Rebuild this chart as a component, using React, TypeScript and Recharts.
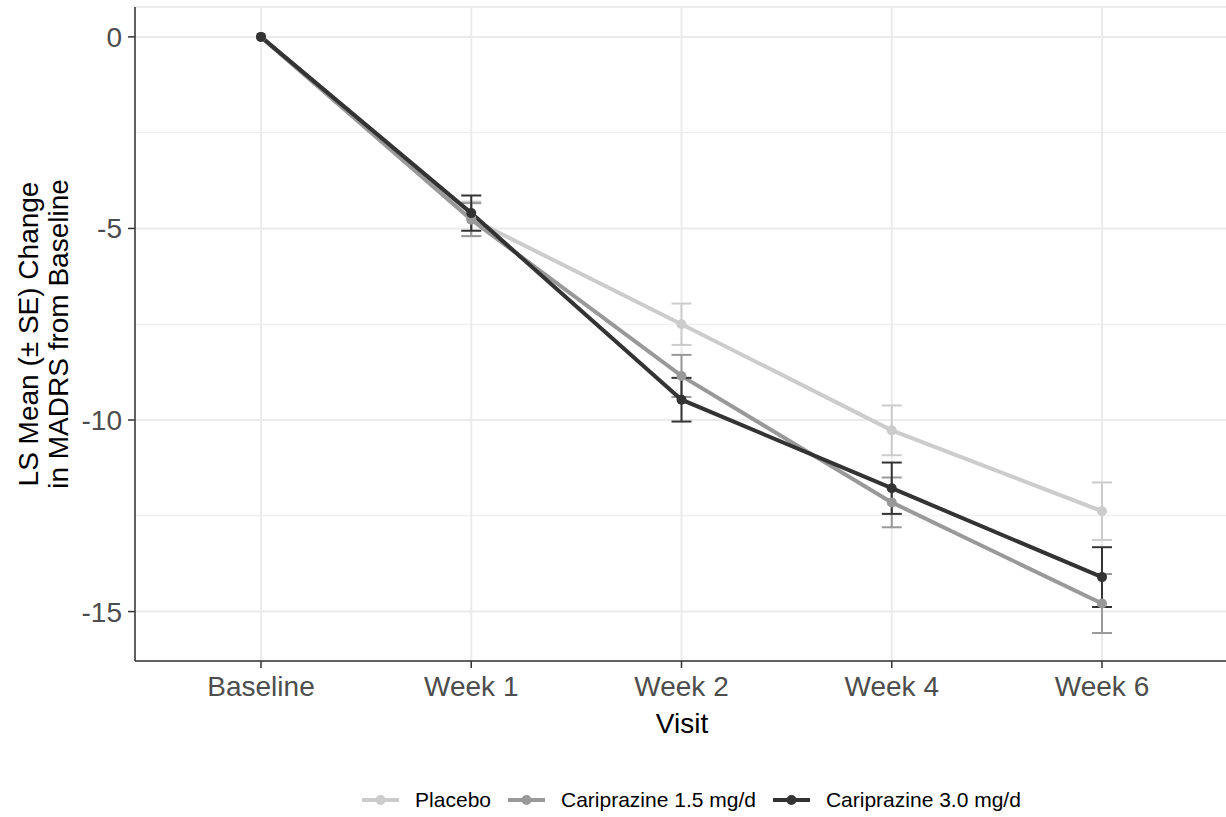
import React from "react";
import {
  LineChart,
  Line,
  XAxis,
  YAxis,
  CartesianGrid,
  ErrorBar,
  Legend,
  ReferenceLine,
  Label,
} from "recharts";

const visits = ["Baseline", "Week 1", "Week 2", "Week 4", "Week 6"];

const placeboMean = [0, -4.75, -7.5, -10.27, -12.38];
const placeboSE = [0, 0.45, 0.54, 0.65, 0.75];
const cari15Mean = [0, -4.77, -8.85, -12.15, -14.79];
const cari15SE = [0, 0.43, 0.55, 0.65, 0.77];
const cari30Mean = [0, -4.6, -9.47, -11.78, -14.1];
const cari30SE = [0, 0.46, 0.57, 0.67, 0.78];

const yTicks = [-15, -10, -5, 0];
const yMinor = [-12.5, -7.5, -2.5];

const series = [
  { key: "placebo", name: "Placebo", color: "#cccccc" },
  { key: "cari15", name: "Cariprazine 1.5 mg/d", color: "#999999" },
  { key: "cari30", name: "Cariprazine 3.0 mg/d", color: "#333333" },
];

const data = visits.map((visit, i) => ({
  visit,
  placebo: placeboMean[i],
  placeboSE: placeboSE[i],
  cari15: cari15Mean[i],
  cari15SE: cari15SE[i],
  cari30: cari30Mean[i],
  cari30SE: cari30SE[i],
}));

const FONT = '"Liberation Sans", Arial, sans-serif';

function YTitle() {
  return (
    <text
      transform="translate(38,334) rotate(-90)"
      textAnchor="middle"
      fontSize={28}
      fill="#000"
      fontFamily={FONT}
    >
      <tspan x={0} dy={0}>LS Mean (± SE) Change</tspan>
      <tspan x={0} dy={30}>in MADRS from Baseline</tspan>
    </text>
  );
}

function LegendContent({ payload }: any) {
  // keep the order of the series, not the alphabetical one
  const items = [...(payload || [])].sort(
    (a: any, b: any) =>
      series.findIndex((s) => s.name === a.value) -
      series.findIndex((s) => s.name === b.value)
  );
  return (
    <div style={{ height: 76, position: "relative" }}>
      <div
        style={{
          position: "absolute",
          top: 47,
          left: 0,
          width: 1226,
          height: 24,
          display: "flex",
          justifyContent: "center",
          alignItems: "center",
          paddingLeft: 174,
          boxSizing: "border-box",
          fontSize: 21,
          fontFamily: FONT,
          color: "#000",
        }}
      >
        {items.map((p: any) => (
          <div
            key={p.value}
            style={{ display: "flex", alignItems: "center", marginRight: 17 }}
          >
            <svg width={37} height={12} style={{ marginRight: 16 }}>
              <line x1={0} y1={6} x2={37} y2={6} stroke={p.color} strokeWidth={4} />
              <circle cx={18.5} cy={6} r={5} fill={p.color} />
            </svg>
            <span>{p.value}</span>
          </div>
        ))}
      </div>
    </div>
  );
}

export default function App() {
  return (
    <div
      style={{
        position: "absolute",
        left: 0,
        top: 0,
        width: 1226,
        height: 817,
        overflow: "hidden",
        fontFamily: FONT,
      }}
    >
      <LineChart
        width={1240}
        height={817}
        data={data}
        margin={{ top: 7, right: 0, bottom: 0, left: 0 }}
      >
        <CartesianGrid stroke="#ebebeb" strokeWidth={2} />
        {yMinor.map((v) => (
          <ReferenceLine key={v} y={v} stroke="#ebebeb" strokeWidth={1} />
        ))}
        <XAxis
          dataKey="visit"
          height={80}
          padding={{ left: 126, right: 138 }}
          tickSize={7}
          tickMargin={8}
          tick={{ fill: "#4d4d4d", fontSize: 28 }}
          axisLine={{ stroke: "#333333", strokeWidth: 1.5 }}
          tickLine={{ stroke: "#333333", strokeWidth: 1.5 }}
        >
          <Label
            value="Visit"
            content={(props: any) => (
              <text x={682} y={733} textAnchor="middle" fontSize={28} fill="#000">
                {props.value}
              </text>
            )}
          />
        </XAxis>
        <XAxis
          xAxisId="top"
          orientation="top"
          dataKey="visit"
          height={0}
          tick={false}
          tickLine={false}
          axisLine={{ stroke: "#333333", strokeWidth: 1.5 }}
        />
        <YAxis
          width={135}
          domain={[-16.29, 0.78]}
          allowDataOverflow
          ticks={yTicks}
          tickSize={7}
          tickMargin={6}
          tick={{ fill: "#4d4d4d", fontSize: 28 }}
          axisLine={{ stroke: "#333333", strokeWidth: 1.5 }}
          tickLine={{ stroke: "#333333", strokeWidth: 1.5 }}
        >
          <Label content={<YTitle />} />
        </YAxis>
        <Legend verticalAlign="bottom" content={<LegendContent />} />
        {series.map((s) => (
          <Line
            key={s.key}
            type="linear"
            dataKey={s.key}
            name={s.name}
            stroke={s.color}
            strokeWidth={4}
            dot={{ r: 5, fill: s.color, stroke: s.color, strokeWidth: 0 }}
            activeDot={false}
            isAnimationActive={false}
          >
            <ErrorBar
              dataKey={s.key + "SE"}
              width={10}
              strokeWidth={2}
              stroke={s.color}
              direction="y"
              isAnimationActive={false}
            />
          </Line>
        ))}
      </LineChart>
    </div>
  );
}
